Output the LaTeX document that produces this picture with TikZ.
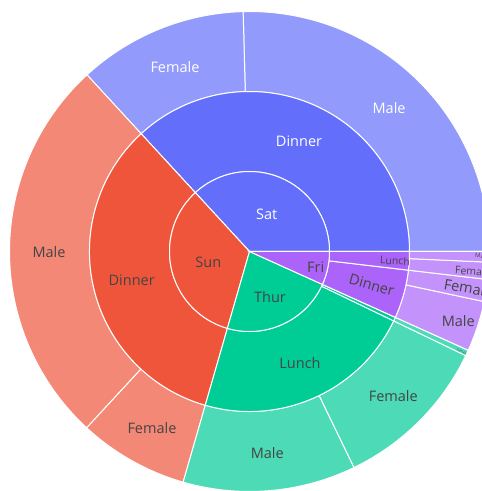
\documentclass[tikz,border=0pt]{standalone}
\usepackage{fontspec}
\setmainfont{Open Sans}
\usepackage{tikz}

\definecolor{satc}{HTML}{636EFA}
\definecolor{sunc}{HTML}{EF553B}
\definecolor{thurc}{HTML}{00CC96}
\definecolor{fric}{HTML}{AB63FA}
\definecolor{oscuro}{HTML}{444444}

% Sector de anillo: color, radio interior, radio exterior, angulo inicial, angulo final
\newcommand{\anillo}[5]{%
  \filldraw[#1, draw=white, line width=1pt] (#4:#2pt) arc[start angle=#4, end angle=#5, radius=#2pt]
    -- (#5:#3pt) arc[start angle=#5, end angle=#4, radius=#3pt] -- cycle;}
% Sector central: color, angulo inicial, angulo final
\newcommand{\centro}[3]{%
  \filldraw[#1, draw=white, line width=1pt] (0,0) -- (#2:80pt) arc[start angle=#2, end angle=#3, radius=80pt] -- cycle;}

\begin{document}
\begin{tikzpicture}[
    x=1pt, y=1pt,
    etq/.style={inner sep=0pt, font=\fontsize{14.5}{17}\selectfont},    % Etiqueta normal
    claro/.style={etq, white},                                          % Texto blanco
    osc/.style={etq, oscuro},                                           % Texto gris oscuro
]
\useasboundingbox (0,0) rectangle (482,491);
\clip (0,0) rectangle (482,491);

\begin{scope}[shift={(249.5,239.5)}]
    % --- Anillo exterior (sexo) ---
    \anillo{satc!70!white}{160}{240}{0}{91.52}
    \anillo{satc!70!white}{160}{240}{91.52}{132.61}
    \anillo{sunc!70!white}{160}{240}{132.61}{227.28}
    \anillo{sunc!70!white}{160}{240}{227.28}{253.95}
    \anillo{thurc!70!white}{160}{240}{253.95}{295.82}
    \anillo{thurc!70!white}{160}{240}{295.82}{334.30}
    \anillo{thurc!70!white}{160}{240}{334.30}{335.70}
    \anillo{fric!70!white}{160}{240}{335.70}{347.96}
    \anillo{fric!70!white}{160}{240}{347.96}{353.30}
    \anillo{fric!70!white}{160}{240}{353.30}{357.45}
    \anillo{fric!70!white}{160}{240}{357.45}{360}

    % --- Anillo medio (comida) ---
    \anillo{satc}{80}{160}{0}{132.61}
    \anillo{sunc}{80}{160}{132.61}{253.95}
    \anillo{thurc}{80}{160}{253.95}{334.30}
    \anillo{thurc}{80}{160}{334.30}{335.70}
    \anillo{fric}{80}{160}{335.70}{353.30}
    \anillo{fric}{80}{160}{353.30}{360}

    % --- Centro (dia) ---
    \centro{satc}{0}{132.61}
    \centro{sunc}{132.61}{253.95}
    \centro{thurc}{253.95}{335.70}
    \centro{fric}{335.70}{360}

    % --- Etiquetas del centro ---
    \node[claro] (sat) at (17.2,37.2) {Sat};
    \node[osc] (sun) at (-41.2,-11.2) {Sun};
    \node[osc] (thur) at (20.5,-45.8) {Thur};
    \node[osc] (fri) at (66.2,-15.2) {Fri};

    % --- Etiquetas del anillo medio ---
    \node[claro] (satDinner) at (49.5,109.8) {Dinner};
    \node[osc] (sunDinner) at (-117.8,-29.2) {Dinner};
    \node[osc] (thurLunch) at (50.5,-111.8) {Lunch};
    \node[osc, rotate=-15.5] (friDinner) at (122.2,-33.5) {Dinner};
    \node[osc, rotate=-3.3, font=\fontsize{10.5}{12}\selectfont] (friLunch) at (145.5,-9.2) {Lunch};

    % --- Etiquetas del anillo exterior ---
    \node[claro] (satMale) at (139.6,143.2) {Male};
    \node[claro] (satFemale) at (-74.5,184.8) {Female};
    \node[osc] (sunMale) at (-200.5,-0.8) {Male};
    \node[osc] (sunFemale) at (-97.5,-176.5) {Female};
    \node[osc] (thurMale) at (17.8,-201.8) {Male};
    \node[osc] (thurFemale) at (143.8,-144.5) {Female};
    \node[osc, rotate=-24.9, font=\fontsize{3}{4}\selectfont] (thurDinFemale) at (212.2,-100.2) {Female};
    \node[osc] (friDinMale) at (208.8,-69.2) {Male};
    \node[osc, rotate=-9.4, anchor=west] (friDinFemale) at (194.5,-32.5) {Female};
    \node[osc, rotate=-4.6, anchor=west, font=\fontsize{10.5}{12}\selectfont] (friLunFemale) at (205.5,-18.5) {Female};
    \node[osc, rotate=-1.3, anchor=west, font=\fontsize{6}{7}\selectfont] (friLunMale) at (225.5,-4.2) {Male};
\end{scope}

\end{tikzpicture}
\end{document}
